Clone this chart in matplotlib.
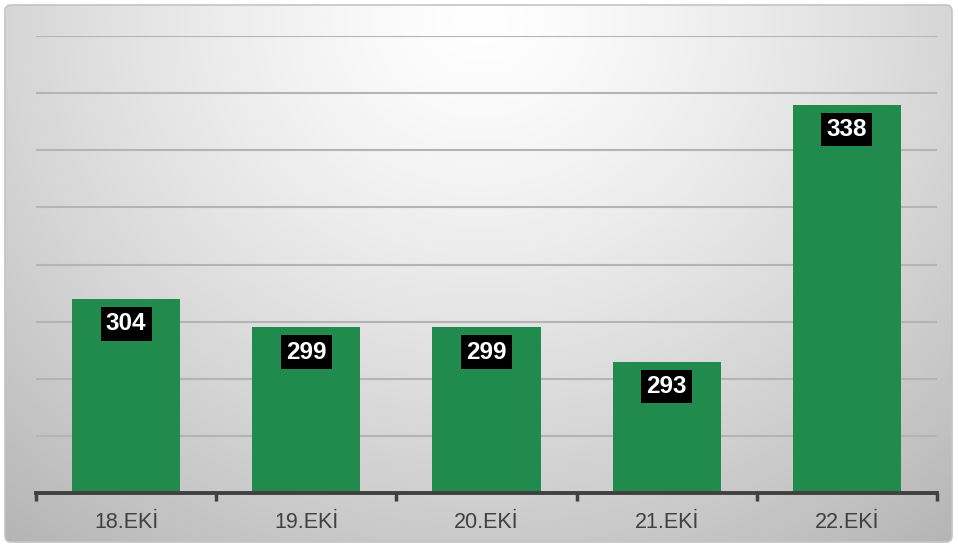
import numpy as np
import matplotlib
matplotlib.use("Agg")
import matplotlib.pyplot as plt
from matplotlib.patches import FancyBboxPatch

categories = ["18.EKİ", "19.EKİ", "20.EKİ", "21.EKİ", "22.EKİ"]
values = [304, 299, 299, 293, 338]

W, H = 958, 548
fig = plt.figure(figsize=(W / 100, H / 100), dpi=100)
fig.patch.set_facecolor("white")

# background gradient panel
bg = fig.add_axes([0, 0, 1, 1], zorder=0)
bg.set_xlim(0, W)
bg.set_ylim(H, 0)
bg.axis("off")
yy, xx = np.mgrid[0:H, 0:W]
d = np.sqrt(((xx - 480) / 620.0) ** 2 + ((yy - 20) / 560.0) ** 2)
val = 1.0 - 0.23 * np.clip(d, 0, 1.3) ** 1.3
img = np.dstack([val, val, val])
im = bg.imshow(img, extent=[0, W, H, 0], aspect="auto", zorder=0)
panel = FancyBboxPatch((5, 5), W - 11, H - 11, boxstyle="round,pad=0,rounding_size=6",
                       transform=bg.transData, facecolor="none", edgecolor="#c4c4c4", lw=1.2, zorder=2)
bg.add_patch(panel)
im.set_clip_path(panel)

ax = fig.add_axes([36 / W, 1 - 493 / H, (937 - 36) / W, (493 - 36) / H], zorder=1)
ax.patch.set_alpha(0)
x = np.arange(len(categories))
ax.bar(x, [v - 270 for v in values], bottom=270, width=0.6, color="#218B4D", zorder=3)
ax.set_xlim(-0.5, len(categories) - 0.5)
ax.set_ylim(270, 350)
ax.set_yticks(np.arange(280, 351, 10))
ax.yaxis.grid(True, color="#b4b4b4", lw=1.5, zorder=1)
ax.tick_params(axis="y", length=0, labelleft=False)
ax.set_xticks(x)
ax.set_xticklabels(categories, fontsize=15.5, color="#404040", family="Liberation Sans")
ax.tick_params(axis="x", length=0, pad=14)
ax.set_xticks(np.arange(-0.5, len(categories), 1), minor=True)
ax.tick_params(axis="x", which="minor", length=6, width=2.5, color="#404040", direction="out")
for s in ["top", "right", "left"]:
    ax.spines[s].set_visible(False)
ax.spines["bottom"].set_color("#404040")
ax.spines["bottom"].set_linewidth(2.8)
ax.spines["bottom"].set_zorder(4)

for xi, v in zip(x, values):
    ax.annotate(str(v), xy=(xi, v), xytext=(0, -25), textcoords="offset pixels",
                ha="center", va="center", fontsize=17.5, fontweight="bold", color="white",
                family="Liberation Sans", zorder=5,
                bbox=dict(boxstyle="square,pad=0.22", facecolor="black", edgecolor="none"))

fig.savefig("out.png", dpi=100)
